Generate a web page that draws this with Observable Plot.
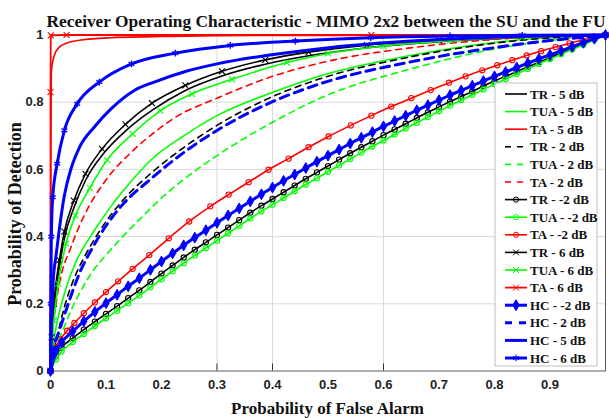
<!DOCTYPE html>
<html><head><meta charset="utf-8">
<script src="https://cdn.jsdelivr.net/npm/d3@7"></script>
<script src="https://cdn.jsdelivr.net/npm/@observablehq/plot@0.6"></script>
<style>body{margin:0;background:#fff}#chart{width:609px;height:418px;overflow:hidden}</style>
</head><body><div id="chart"></div>
<script>
// ---- tick labels ----
const xTickVals = [0,0.1,0.2,0.3,0.4,0.5,0.6,0.7,0.8,0.9];
const xTickLabels = ["0","0.1","0.2","0.3","0.4","0.5","0.6","0.7","0.8","0.9"];
const yTickVals = [0,0.2,0.4,0.6,0.8,1];
const yTickLabels = ["0","0.2","0.4","0.6","0.8","1"];
const xGridVals = [0.3,0.4,0.6];
const yGridVals = [0.2,0.4,0.6,0.8];

// ---- series values (Pfa, Pd) ----
const tr5Pfa = [0,0.002,0.006,0.016,0.025,0.042,0.063,0.097,0.139,0.184,0.243,0.309,0.387,0.465,0.57,0.7,0.85,1];
const tr5Pd  = [0,0.09,0.18,0.31,0.395,0.485,0.567,0.65,0.72,0.777,0.835,0.878,0.913,0.938,0.962,0.98,0.993,1];
const tua5Pfa = [0,0.004,0.010,0.025,0.046,0.079,0.109,0.139,0.181,0.24,0.3,0.402,0.49,0.649,0.811,1];
const tua5Pd  = [0,0.07,0.13,0.23,0.325,0.418,0.49,0.552,0.628,0.70,0.76,0.83,0.88,0.939,0.98,1];
const ta5Pfa = [0,0.0003,0.0006,0.0015,0.007,0.016,0.031,0.055,0.109,0.187,0.3,0.5,1];
const ta5Pd  = [0,0.3,0.65,0.89,0.94,0.964,0.977,0.985,0.992,0.995,0.998,0.999,1];

const tr2Pfa = [0,0.004,0.010,0.025,0.046,0.061,0.091,0.133,0.18,0.24,0.3,0.402,0.49,0.649,0.811,1];
const tr2Pd  = [0,0.05,0.09,0.19,0.289,0.339,0.423,0.513,0.587,0.665,0.731,0.818,0.872,0.935,0.978,1];
const tua2Pfa = [0,0.007,0.022,0.037,0.058,0.082,0.1,0.133,0.169,0.2,0.24,0.3,0.402,0.49,0.649,0.811,1];
const tua2Pd  = [0,0.052,0.12,0.18,0.249,0.31,0.345,0.405,0.465,0.515,0.57,0.641,0.742,0.815,0.899,0.962,1];
const ta2Pfa = [0,0.003,0.01,0.02,0.035,0.046,0.067,0.097,0.148,0.187,0.222,0.3,0.4,0.5,0.65,0.81,1];
const ta2Pd  = [0,0.1,0.2,0.29,0.36,0.408,0.483,0.562,0.655,0.71,0.752,0.812,0.877,0.922,0.962,0.988,1];

const pfaDense = [0,0.01,0.02,0.04,0.06,0.08,0.1,0.12,0.14,0.16,0.18,0.2,0.22,0.24,0.26,0.28,0.3,0.32,0.34,0.36,0.38,0.4,0.42,0.44,0.46,0.48,0.5,0.52,0.54,0.56,0.58,0.6,0.62,0.64,0.66,0.68,0.7,0.72,0.74,0.76,0.78,0.8,0.82,0.84,0.86,0.88,0.9,0.92,0.94,0.96,0.98,1];
const trM2Pd = [0,0.045,0.07,0.098,0.123,0.147,0.17,0.193,0.217,0.24,0.265,0.29,0.314,0.338,0.361,0.383,0.405,0.427,0.449,0.471,0.492,0.512,0.532,0.552,0.572,0.591,0.61,0.629,0.648,0.666,0.684,0.702,0.719,0.736,0.753,0.77,0.786,0.802,0.817,0.832,0.848,0.863,0.877,0.891,0.905,0.919,0.933,0.947,0.96,0.973,0.987,1];
const tuaM2Pd = [0,0.035,0.058,0.086,0.11,0.134,0.157,0.179,0.202,0.225,0.249,0.273,0.297,0.321,0.344,0.366,0.388,0.41,0.432,0.454,0.475,0.495,0.515,0.535,0.555,0.574,0.593,0.612,0.631,0.65,0.668,0.686,0.704,0.722,0.739,0.756,0.773,0.79,0.806,0.822,0.838,0.854,0.869,0.884,0.899,0.914,0.928,0.943,0.957,0.971,0.986,1];
const hcM2Pd = [0,0.06,0.085,0.118,0.148,0.176,0.202,0.227,0.252,0.276,0.301,0.326,0.35,0.374,0.397,0.419,0.441,0.463,0.484,0.505,0.526,0.546,0.566,0.585,0.604,0.623,0.641,0.659,0.677,0.694,0.711,0.728,0.744,0.76,0.776,0.791,0.806,0.821,0.835,0.849,0.863,0.877,0.89,0.903,0.916,0.929,0.941,0.953,0.965,0.977,0.989,1];
const taM2Pfa = [0,0.003,0.009,0.018,0.03,0.043,0.06,0.08,0.1,0.122,0.148,0.178,0.213,0.25,0.288,0.321,0.357,0.393,0.429,0.465,0.501,0.541,0.578,0.614,0.65,0.685,0.718,0.748,0.778,0.805,0.832,0.858,0.884,0.91,0.935,0.958,0.98,1];
const taM2Pd  = [0,0.04,0.07,0.095,0.12,0.143,0.172,0.204,0.235,0.267,0.304,0.345,0.395,0.445,0.49,0.525,0.562,0.599,0.632,0.666,0.698,0.731,0.76,0.787,0.812,0.836,0.858,0.877,0.895,0.91,0.925,0.939,0.952,0.964,0.975,0.985,0.993,1];

const tr6Pfa = [0,0.002,0.006,0.016,0.025,0.042,0.063,0.093,0.135,0.183,0.243,0.309,0.387,0.465,0.57,0.7,0.85,1];
const tr6Pd  = [0,0.1,0.2,0.33,0.415,0.507,0.587,0.661,0.734,0.797,0.85,0.892,0.926,0.949,0.97,0.985,0.995,1];
const tua6Pfa = [0,0.002,0.006,0.014,0.028,0.045,0.071,0.102,0.148,0.198,0.255,0.327,0.426,0.5,0.6,0.72,0.85,1];
const tua6Pd  = [0,0.07,0.15,0.26,0.379,0.463,0.545,0.628,0.706,0.775,0.825,0.868,0.918,0.945,0.967,0.983,0.994,1];
const ta6Pfa = [0,0,0.0005,0.029,0.578,1];
const ta6Pd  = [0,0.83,0.999,1,1,1];

const hc2Pfa = [0,0.005,0.016,0.034,0.052,0.075,0.097,0.127,0.181,0.24,0.3,0.402,0.49,0.649,0.811,1];
const hc2Pd  = [0,0.06,0.12,0.21,0.29,0.365,0.425,0.49,0.572,0.65,0.716,0.803,0.857,0.92,0.965,1];
const hc5Pfa = [0,0.002,0.005,0.010,0.016,0.025,0.037,0.052,0.079,0.109,0.151,0.187,0.24,0.3,0.402,0.505,0.65,0.81,1];
const hc5Pd  = [0,0.15,0.27,0.344,0.423,0.522,0.602,0.665,0.726,0.78,0.835,0.86,0.89,0.914,0.942,0.963,0.982,0.994,1];
const hc6Pfa = [0,0.0005,0.0015,0.004,0.012,0.025,0.048,0.088,0.146,0.225,0.324,0.441,0.577,0.72,0.85,1];
const hc6Pd  = [0,0.2,0.4,0.517,0.617,0.716,0.795,0.86,0.914,0.946,0.969,0.982,0.992,0.997,0.999,1];

// ---- styling per series (plot order = legend order) ----
const BLACK="#000000", GREEN="#00ff00", RED="#ff0000", BLUE="#0000ff";
const series = [
  {name:"TR - 5 dB",   pfa:tr5Pfa,  pd:tr5Pd,  color:BLACK, w:1.6},
  {name:"TUA - 5 dB",  pfa:tua5Pfa, pd:tua5Pd, color:GREEN, w:1.6},
  {name:"TA - 5 dB",   pfa:ta5Pfa,  pd:ta5Pd,  color:RED,   w:1.6},
  {name:"TR - 2 dB",   pfa:tr2Pfa,  pd:tr2Pd,  color:BLACK, w:1.6, dash:"6,5"},
  {name:"TUA - 2 dB",  pfa:tua2Pfa, pd:tua2Pd, color:GREEN, w:1.6, dash:"6,5"},
  {name:"TA - 2 dB",   pfa:ta2Pfa,  pd:ta2Pd,  color:RED,   w:1.6, dash:"6,5"},
  {name:"TR - -2 dB",  pfa:pfaDense, pd:trM2Pd,  color:BLACK, w:1.6, sym:"circle", r:2.6},
  {name:"TUA - -2 dB", pfa:pfaDense, pd:tuaM2Pd, color:GREEN, w:1.6, sym:"circle", r:2.6},
  {name:"TA - -2 dB",  pfa:taM2Pfa,  pd:taM2Pd,  color:RED,   w:1.6, sym:"circle", r:2.6},
  {name:"TR - 6 dB",   pfa:tr6Pfa,  pd:tr6Pd,  color:BLACK, w:1.6, sym:"times", r:2.8},
  {name:"TUA - 6 dB",  pfa:tua6Pfa, pd:tua6Pd, color:GREEN, w:1.6, sym:"times", r:2.8},
  {name:"TA - 6 dB",   pfa:ta6Pfa,  pd:ta6Pd,  color:RED,   w:1.8, sym:"times", r:2.8, linear:true},
  {name:"HC - -2 dB",  pfa:pfaDense, pd:hcM2Pd, color:BLUE, w:3, sym:"diamond", r:3.3, fill:true},
  {name:"HC - 2 dB",   pfa:hc2Pfa,  pd:hc2Pd,  color:BLUE,  w:3, dash:"9,6"},
  {name:"HC - 5 dB",   pfa:hc5Pfa,  pd:hc5Pd,  color:BLUE,  w:3},
  {name:"HC - 6 dB",   pfa:hc6Pfa,  pd:hc6Pd,  color:BLUE,  w:3, sym:"asterisk", r:3.2}
];

const rowsOf = s => s.pfa.map((x,i)=>({x, y:s.pd[i]}));

const SERIF = "'Liberation Serif','Times New Roman',serif";
const SANS = "'Liberation Sans',Arial,sans-serif";

const marks = [
  Plot.gridX(xGridVals, {stroke:"#d9d9d9", strokeOpacity:1, strokeWidth:1}),
  Plot.gridY(yGridVals, {stroke:"#d9d9d9", strokeOpacity:1, strokeWidth:1}),
  Plot.ruleX(xGridVals, {x:d=>d, y1:0, y2:0.021, stroke:"#333", strokeWidth:1}),
  Plot.frame({stroke:"#333", strokeWidth:0.8})
];
for (const s of series) {
  const rows = rowsOf(s);
  marks.push(Plot.line(rows, {x:"x", y:"y", stroke:s.color, strokeWidth:s.w,
    strokeDasharray:s.dash || null, curve: s.linear ? "linear" : "monotone-x"}));
  if (s.sym) {
    marks.push(Plot.dot(rows, {x:"x", y:"y", symbol:()=>s.sym, r:s.r,
      stroke:s.color, strokeWidth: s.fill ? 1 : (s.sym==="asterisk"?1.4:1.1),
      fill: s.fill ? s.color : "none"}));
  }
}
marks.push(
  Plot.axisX({ticks:xTickVals, tickFormat:d=>xTickLabels[xTickVals.indexOf(d)], tickSize:0, tickPadding:9,
    fill:"#222", label:null}),
  Plot.axisY({ticks:yTickVals, tickFormat:d=>yTickLabels[yTickVals.indexOf(d)], tickSize:0, tickPadding:7,
    fill:"#222", label:null})
);

const chart = Plot.plot({
  width:609, height:418,
  marginLeft:50, marginRight:4, marginTop:34.5, marginBottom:47.5,
  x:{domain:[0,1]}, y:{domain:[0,1]},
  style:{background:"#fff", overflow:"visible", fontFamily:SANS, fontSize:"13px", fontWeight:"bold"},
  symbol:{type:"identity"},
  marks
});
document.getElementById("chart").appendChild(chart);

const svg = d3.select(chart);
function addText(sel){ return sel.attr("font-family",SERIF).attr("font-weight","bold").attr("fill","#111"); }
addText(svg.append("text")).attr("x",326).attr("y",27).attr("text-anchor","middle")
  .attr("font-size",17).attr("textLength",559).attr("lengthAdjust","spacingAndGlyphs")
  .text("Receiver Operating Characteristic - MIMO 2x2 between the SU and the FU");
addText(svg.append("text")).attr("transform","translate(21,214) rotate(-90)").attr("text-anchor","middle")
  .attr("font-size",18).text("Probability of Detection");
addText(svg.append("text")).attr("x",327.5).attr("y",414).attr("text-anchor","middle")
  .attr("font-size",17).text("Probability of False Alarm");

// legend
const lg = svg.append("g");
lg.append("rect").attr("x",495).attr("y",83).attr("width",102).attr("height",283)
  .attr("fill","#fff").attr("stroke","#b0b0b0").attr("stroke-width",0.8);
const symMap = {circle:d3.symbolCircle, times:d3.symbolTimes, diamond:d3.symbolDiamond, asterisk:d3.symbolAsterisk};
series.forEach((s,i)=>{
  const y = 94 + 17.6*i;
  lg.append("line").attr("x1",505).attr("x2",527).attr("y1",y).attr("y2",y)
    .attr("stroke",s.color).attr("stroke-width",s.w)
    .attr("stroke-dasharray", s.dash ? (s.w>2 ? "7,7" : "6,6") : null);
  if (s.sym) {
    lg.append("path").attr("transform",`translate(516,${y})`)
      .attr("d", d3.symbol(symMap[s.sym], s.r*s.r*Math.PI)())
      .attr("stroke",s.color).attr("stroke-width",1)
      .attr("fill", s.fill ? s.color : "none");
  }
  addText(lg.append("text")).attr("x",530).attr("y",y).attr("dy","0.35em").attr("text-anchor","start")
    .attr("font-size",13).text(s.name);
});
</script>
</body></html>
